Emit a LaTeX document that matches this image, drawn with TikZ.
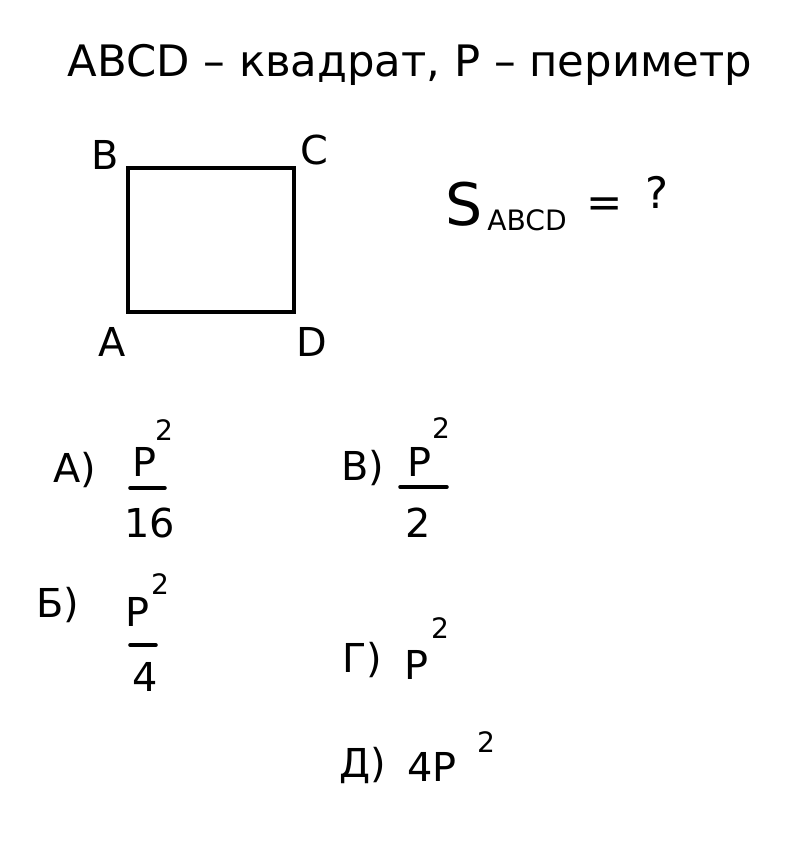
\documentclass[tikz,border=0pt]{standalone}
\usepackage{fontspec}
\setmainfont{DejaVu Sans}
\begin{document}
\begin{tikzpicture}[x=0.03cm,y=-0.03cm,
  txt/.style={inner sep=0pt,font=\fontsize{34}{40}\selectfont},
  big/.style={inner sep=0pt,font=\fontsize{37}{44}\selectfont},
  sm/.style={inner sep=0pt,font=\fontsize{24}{28}\selectfont},
  ln/.style={line width=3pt,line cap=round}]
\useasboundingbox[fill=white] (0,0) rectangle (787,842);
% title
\node[big,anchor=center] (title) at (410,65) {ABCD – квадрат, P – периметр};
% square
\coordinate (sB) at (128,168);
\coordinate (sC) at (294,168);
\coordinate (sD) at (294,312);
\coordinate (sA) at (128,312);
\draw[ln] (sA) -- (sB) -- (sC) -- (sD) -- cycle;
\node[txt] (lB) at (105,155) {B};
\node[txt] (lC) at (314,150) {C};
\node[txt] (lA) at (112,342) {A};
\node[txt] (lD) at (312,342) {D};
% question
\node[inner sep=0pt,font=\fontsize{50}{56}\selectfont] (S) at (464,204) {S};
\node[sm] (sub) at (527,220) {ABCD};
\node[big] (eq) at (605,208) {=};
\node[big] (q) at (657,192) {?};
% answers
\node[txt] (a1) at (75,470) {A)};
\node[txt] (a1p) at (145,462) {P};
\node[sm] (a1e) at (164,430) {2};
\draw[ln] (130,488) -- (165,488);
\node[txt] (a1d) at (150,523) {16};

\node[txt] (a2) at (363,468) {B)};
\node[txt] (a2p) at (420,462) {P};
\node[sm] (a2e) at (441,428) {2};
\draw[ln] (400,487) -- (447,487);
\node[txt] (a2d) at (418,523) {2};

\node[txt] (a3) at (58,605) {Б)};
\node[txt] (a3p) at (138,612) {P};
\node[sm] (a3e) at (160,584) {2};
\draw[ln] (130,645) -- (156,645);
\node[txt] (a3d) at (145,677) {4};

\node[txt] (a4) at (362,660) {Г)};
\node[txt] (a4p) at (417,665) {P};
\node[sm] (a4e) at (440,628) {2};

\node[txt] (a5) at (363,765) {Д)};
\node[txt] (a5p) at (432,767) {4P};
\node[sm] (a5e) at (486,742) {2};
\end{tikzpicture}
\end{document}
